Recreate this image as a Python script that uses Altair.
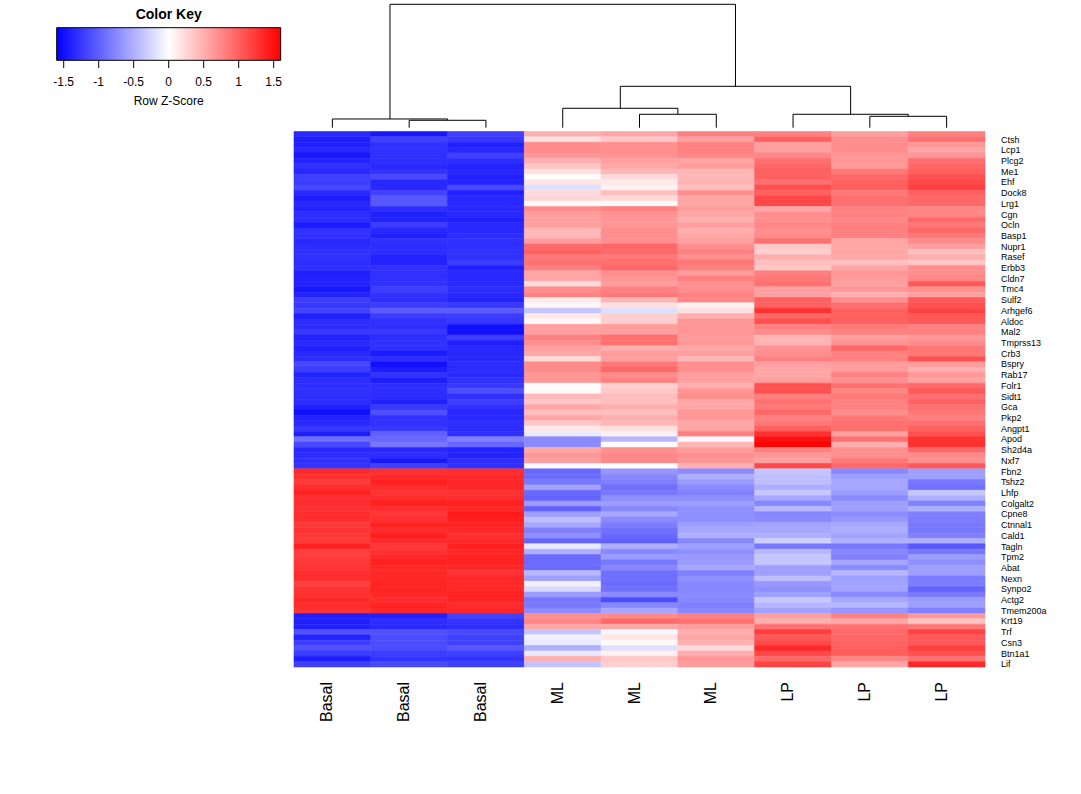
import altair as alt
import pandas as pd

FONT = "Liberation Sans"

# ---------------- data ----------------
sample_names = ["Basal", "Basal", "Basal", "ML", "ML", "ML", "LP", "LP", "LP"]
sample_ids = ["S1", "S2", "S3", "S4", "S5", "S6", "S7", "S8", "S9"]

# labels visible on the odd rows (1, 3, 5, ... 99)
shown_gene_labels = [
    "Ctsh", "Lcp1", "Plcg2", "Me1", "Ehf", "Dock8", "Lrg1", "Cgn", "Ocln", "Basp1",
    "Nupr1", "Rasef", "Erbb3", "Cldn7", "Tmc4", "Sulf2", "Arhgef6", "Aldoc", "Mal2", "Tmprss13",
    "Crb3", "Bspry", "Rab17", "Folr1", "Sidt1", "Gca", "Pkp2", "Angpt1", "Apod", "Sh2d4a",
    "Nxf7", "Fbn2", "Tshz2", "Lhfp", "Colgalt2", "Cpne8", "Ctnnal1", "Cald1", "Tagln", "Tpm2",
    "Abat", "Nexn", "Synpo2", "Actg2", "Tmem200a", "Krt19", "Trf", "Csn3", "Btn1a1", "Lif",
]

# row z-scores, one list per sample column (100 genes, top to bottom)
z_basal_1 = [
    -1.35, -1.4, -1.4, -1.35, -1.45, -1.38, -1.3, -1.35, -1.22, -1.22,
    -1.15, -1.35, -1.42, -1.35, -1.38, -1.32, -1.32, -1.43, -1.3, -1.3,
    -1.35, -1.32, -1.3, -1.3, -1.32, -1.3, -1.4, -1.38, -1.38, -1.45,
    -1.38, -1.22, -1.25, -1.18, -1.4, -1.32, -1.32, -1.25, -1.38, -1.35,
    -1.38, -1.35, -1.32, -1.15, -1.22, -1.38, -1.32, -1.32, -1.3, -1.32,
    -1.32, -1.4, -1.5, -1.38, -1.35, -1.25, -1.4, -0.9, -1.15, -1.35,
    -1.32, -1.3, -1.28, 1.35, 1.3, 1.22, 1.32, 1.4, 1.3, 1.32,
    1.3, 1.32, 1.32, 1.25, 1.28, 1.25, 1.25, 1.4, 1.22, 1.22,
    1.25, 1.28, 1.32, 1.32, 1.2, 1.28, 1.28, 1.35, 1.32, 1.28,
    -1.4, -1.4, -1.4, -1.1, -1.38, -1.22, -1.1, -1.22, -1.42, -1.2,
]
z_basal_2 = [
    -1.45, -1.2, -1.3, -1.3, -1.3, -1.32, -1.35, -1.28, -1.15, -1.35,
    -1.35, -1.2, -1.05, -1.05, -1.32, -1.4, -1.38, -1.22, -1.35, -1.4,
    -1.3, -1.32, -1.32, -1.38, -1.38, -1.3, -1.3, -1.3, -1.3, -1.22,
    -1.3, -1.32, -1.22, -1.03, -1.22, -1.3, -1.32, -1.25, -1.32, -1.3,
    -1.3, -1.43, -1.32, -1.5, -1.42, -1.28, -1.42, -1.32, -1.32, -1.32,
    -1.4, -1.25, -1.1, -1.3, -1.3, -1.25, -1.0, -0.95, -0.85, -1.35,
    -1.32, -1.45, -1.2, 1.3, 1.35, 1.4, 1.32, 1.28, 1.32, 1.4,
    1.32, 1.25, 1.3, 1.4, 1.32, 1.42, 1.35, 1.25, 1.3, 1.35,
    1.4, 1.35, 1.35, 1.35, 1.38, 1.38, 1.35, 1.32, 1.38, 1.35,
    -1.4, -1.32, -1.35, -1.1, -1.12, -1.12, -1.12, -1.22, -1.28, -1.15,
]
z_basal_3 = [
    -1.2, -1.25, -1.4, -1.35, -1.2, -1.32, -1.38, -1.35, -1.4, -1.38,
    -1.15, -1.4, -1.35, -1.35, -1.35, -1.35, -1.4, -1.35, -1.35, -1.32,
    -1.3, -1.3, -1.3, -1.3, -1.22, -1.4, -1.35, -1.35, -1.35, -1.32,
    -1.35, -1.38, -1.25, -1.03, -1.22, -1.25, -1.5, -1.5, -1.22, -1.4,
    -1.35, -1.35, -1.35, -1.32, -1.32, -1.35, -1.28, -1.25, -1.1, -1.3,
    -1.22, -1.3, -1.35, -1.35, -1.32, -1.32, -1.3, -0.8, -0.95, -1.38,
    -1.38, -1.32, -1.3, 1.32, 1.35, 1.35, 1.35, 1.28, 1.32, 1.4,
    1.35, 1.43, 1.4, 1.38, 1.35, 1.3, 1.35, 1.4, 1.35, 1.38,
    1.38, 1.35, 1.28, 1.35, 1.35, 1.35, 1.38, 1.38, 1.32, 1.35,
    -1.2, -1.28, -1.32, -1.15, -1.2, -1.2, -1.05, -1.2, -1.28, -1.2,
]
z_ml_1 = [
    0.5, 0.2, 0.73, 0.73, 0.65, 0.5, 0.37, 0.2, 0.02, 0.15,
    -0.2, 0.23, 0.25, 0.04, 0.73, 0.62, 0.6, 0.6, 0.45, 0.45,
    0.6, 0.93, 1.0, 0.85, 0.9, 0.8, 0.55, 0.55, 0.23, 0.7,
    0.8, 0.14, 0.06, -0.37, 0.14, 0.04, 0.6, 0.6, 0.8, 0.7,
    0.6, 0.55, 0.23, 0.73, 0.73, 0.65, 0.65, -0.02, 0.04, 0.45,
    0.35, 0.55, 0.4, 0.55, 0.35, 0.14, -0.14, -0.73, -0.73, 0.55,
    0.65, 0.6, -0.03, -0.95, -0.93, -0.85, -0.58, -0.95, -0.97, -0.62,
    -1.0, -0.6, -0.4, -0.55, -0.8, -0.7, -0.97, -0.14, -0.5, -0.93,
    -0.93, -0.93, -0.45, -0.6, -0.09, -0.23, -0.62, -0.85, -0.85, -0.73,
    0.7, 0.75, 0.55, -0.37, -0.09, -0.14, -0.5, -0.14, 0.5, -0.37,
]
z_ml_2 = [
    0.55, 0.35, 0.7, 0.7, 0.68, 0.6, 0.55, 0.45, 0.23, 0.14,
    0.09, 0.4, 0.23, 0.03, 0.8, 0.68, 0.65, 0.65, 0.7, 0.7,
    0.7, 0.95, 0.95, 0.85, 0.9, 0.95, 0.7, 0.65, 0.62, 0.8,
    0.85, 0.47, 0.2, -0.2, 0.3, 0.3, 0.62, 0.6, 0.9, 0.9,
    0.5, 0.62, 0.6, 0.85, 0.95, 0.73, 0.8, 0.3, 0.35, 0.4,
    0.4, 0.5, 0.4, 0.5, 0.45, 0.2, 0.09, -0.45, 0.0, 0.7,
    0.75, 0.75, 0.0, -0.65, -0.75, -0.8, -0.9, -0.85, -0.7, -0.62,
    -0.75, -0.55, -0.73, -0.82, -0.9, -0.95, -1.0, -0.5, -0.75, -0.62,
    -0.85, -0.75, -0.9, -0.9, -0.93, -0.9, -0.73, -1.12, -0.75, -0.55,
    0.73, 0.95, 0.55, -0.05, 0.15, 0.04, -0.2, 0.09, 0.35, 0.3,
]
z_ml_3 = [
    0.8, 0.6, 0.8, 0.8, 0.75, 0.58, 0.62, 0.45, 0.45, 0.47,
    0.4, 0.7, 0.55, 0.55, 0.62, 0.55, 0.5, 0.6, 0.5, 0.55,
    0.6, 0.7, 0.8, 0.7, 0.85, 0.8, 0.62, 0.8, 0.7, 0.7,
    0.8, 0.75, 0.09, 0.2, 0.5, 0.65, 0.65, 0.65, 0.62, 0.65,
    0.55, 0.6, 0.45, 0.7, 0.7, 0.62, 0.6, 0.5, 0.65, 0.7,
    0.55, 0.55, 0.65, 0.65, 0.55, 0.55, 0.8, -0.04, 0.45, 0.62,
    0.7, 0.65, 0.5, -0.73, -0.5, -0.62, -0.73, -0.8, -0.7, -0.6,
    -0.7, -0.7, -0.7, -0.6, -0.55, -0.5, -0.75, -0.6, -0.7, -0.65,
    -0.62, -0.55, -0.8, -0.7, -0.75, -0.75, -0.73, -0.75, -0.8, -0.75,
    0.8, 0.9, 0.62, 0.5, 0.55, 0.5, 0.23, 0.5, 0.65, 0.62,
]
z_lp_1 = [
    0.8, 1.0, 0.6, 0.6, 0.75, 0.9, 0.95, 1.0, 1.0, 0.9,
    1.1, 1.0, 1.15, 1.15, 0.55, 0.7, 0.7, 0.75, 0.7, 0.73,
    0.9, 0.35, 0.3, 0.5, 0.4, 0.35, 0.8, 0.85, 0.9, 0.6,
    0.6, 1.0, 1.0, 1.3, 0.95, 1.1, 0.8, 0.73, 0.47, 0.47,
    0.68, 0.7, 0.8, 0.6, 0.55, 0.55, 0.6, 1.1, 1.1, 0.8,
    0.9, 0.85, 0.95, 0.8, 0.85, 1.0, 1.3, 1.5, 1.59, 0.8,
    0.65, 0.6, 1.15, -0.37, -0.4, -0.4, -0.5, -0.35, -0.55, -0.75,
    -0.45, -0.75, -0.73, -0.58, -0.55, -0.5, -0.3, -0.85, -0.45, -0.35,
    -0.35, -0.6, -0.6, -0.4, -0.65, -0.7, -0.6, -0.35, -0.45, -0.58,
    0.6, 0.5, 0.9, 1.22, 1.05, 1.15, 1.35, 1.15, 0.95, 1.18,
]
z_lp_2 = [
    0.6, 0.7, 0.73, 0.7, 0.65, 0.65, 0.62, 0.85, 0.95, 1.0,
    1.0, 0.85, 0.9, 0.9, 0.8, 0.8, 0.75, 0.8, 0.8, 0.8,
    0.55, 0.55, 0.55, 0.55, 0.4, 0.55, 0.65, 0.62, 0.6, 0.65,
    0.5, 0.7, 0.9, 1.0, 1.0, 1.0, 0.85, 0.8, 0.6, 0.68,
    0.95, 0.8, 0.8, 0.62, 0.62, 0.8, 0.68, 0.9, 0.75, 0.85,
    0.8, 0.8, 0.7, 0.85, 0.9, 0.9, 0.6, 0.9, 0.5, 0.7,
    0.7, 0.85, 0.95, -0.75, -0.62, -0.55, -0.55, -0.62, -0.73, -0.6,
    -0.6, -0.73, -0.65, -0.55, -0.5, -0.58, -0.5, -0.85, -0.75, -0.8,
    -0.55, -0.73, -0.45, -0.6, -0.58, -0.58, -0.73, -0.55, -0.45, -0.65,
    0.8, 0.55, 0.9, 0.95, 0.95, 1.0, 1.0, 1.02, 0.75, 0.55,
]
z_lp_3 = [
    0.8, 0.9, 0.65, 0.55, 0.65, 0.9, 0.95, 1.0, 1.1, 1.15,
    1.2, 1.0, 0.95, 0.95, 0.75, 0.75, 0.95, 0.85, 0.95, 0.85,
    0.73, 0.6, 0.4, 0.5, 0.35, 0.7, 0.7, 0.75, 1.05, 0.7,
    0.6, 1.05, 1.1, 1.2, 1.05, 1.05, 0.8, 0.8, 0.65, 0.73,
    0.85, 0.85, 1.1, 0.62, 0.5, 0.65, 0.58, 0.95, 1.05, 0.9,
    1.0, 0.9, 0.85, 0.8, 0.9, 1.0, 1.1, 1.3, 1.3, 0.95,
    0.73, 0.7, 1.05, -0.6, -0.6, -0.85, -0.9, -0.35, -0.5, -0.8,
    -0.5, -0.8, -0.82, -0.85, -0.85, -0.8, -0.5, -1.05, -0.85, -0.62,
    -0.7, -0.6, -0.6, -0.82, -0.82, -0.97, -0.85, -0.62, -0.6, -0.8,
    0.65, 0.37, 0.85, 1.18, 1.05, 1.05, 1.2, 1.1, 0.9, 1.35,
]

# column dendrogram (hclust-style merges: negative = leaf index, positive = merge index)
merge_left = [-2, -1, -5, -4, -8, -7, 4, 2]
merge_right = [-3, 1, -6, 3, -9, 5, 6, 7]
merge_height = [1.80, 2.12, 3.26, 4.72, 2.77, 3.26, 10.06, 30.0]

# colour key
key_limits = [-1.6, 1.6]
key_tick_values = [-1.5, -1.0, -0.5, 0.0, 0.5, 1.0, 1.5]
key_tick_labels = ["-1.5", "-1", "-0.5", "0", "0.5", "1", "1.5"]

# ---------------- tables ----------------
columns = [z_basal_1, z_basal_2, z_basal_3, z_ml_1, z_ml_2, z_ml_3, z_lp_1, z_lp_2, z_lp_3]
n_rows = len(z_basal_1)
rows = list(range(n_rows))

heat_df = pd.DataFrame(
    [{"row": r, "sample": sample_ids[j], "z": columns[j][r]} for j in range(9) for r in rows]
)
rowlab_df = pd.DataFrame(
    [{"row": 2 * i + 1, "label": lab} for i, lab in enumerate(shown_gene_labels)]
)
collab_df = pd.DataFrame({"sample": sample_ids, "name": sample_names})

# dendrogram segments
def node_pos(k, pos):
    if k < 0:
        return (-k - 1) + 0.5, 0.0
    return pos[k - 1]

pos = []
segs = []
for l, r, h in zip(merge_left, merge_right, merge_height):
    xl, hl = node_pos(l, pos)
    xr, hr = node_pos(r, pos)
    segs.append({"x0": xl, "x1": xl, "h0": hl, "h1": h})
    segs.append({"x0": xr, "x1": xr, "h0": hr, "h1": h})
    segs.append({"x0": xl, "x1": xr, "h0": h, "h1": h})
    pos.append(((xl + xr) / 2, h))
dendro_df = pd.DataFrame(segs)

key_df = pd.DataFrame({"lo": [key_limits[0]], "hi": [key_limits[1]]})
keytick_df = pd.DataFrame({"v": key_tick_values, "lab": key_tick_labels})
keytitle_df = pd.DataFrame({"v": [0.0], "t": ["Color Key"]})
keyxlab_df = pd.DataFrame({"v": [0.0], "t": ["Row Z-Score"]})

# ---------------- scales ----------------
HX = [294, 985]
HY = [131.5, 667]
x_band = alt.Scale(domain=sample_ids, range=HX, paddingInner=0, paddingOuter=0)
y_band = alt.Scale(domain=rows, range=HY, paddingInner=0, paddingOuter=0)
col_scale = alt.Scale(domain=[key_limits[0], 0, key_limits[1]],
                      range=["#0000FF", "#FFFFFF", "#FF0000"], interpolate="rgb")
dx_scale = alt.Scale(domain=[0, 9], range=HX, nice=False, zero=False)
dy_scale = alt.Scale(domain=[0, 30], range=[127.7, 4.3], nice=False, zero=False)
key_scale = alt.Scale(domain=key_limits, range=[56.7, 280.7], nice=False, zero=False)

# ---------------- layers ----------------
heat = alt.Chart(heat_df).mark_rect(strokeWidth=0.6).encode(
    x=alt.X("sample:N", scale=x_band, axis=None),
    y=alt.Y("row:O", scale=y_band, axis=None),
    color=alt.Color("z:Q", scale=col_scale, legend=None),
    stroke=alt.Stroke("z:Q", scale=col_scale, legend=None),
)

rowlab = alt.Chart(rowlab_df).mark_text(
    align="left", baseline="middle", fontSize=9, font=FONT, color="black"
).encode(
    y=alt.Y("row:O", scale=y_band, axis=None),
    x=alt.value(1001),
    text="label:N",
)

collab = alt.Chart(collab_df).mark_text(
    angle=270, align="right", baseline="alphabetic", fontSize=16, font=FONT, color="black"
).encode(
    x=alt.X("sample:N", scale=x_band, axis=None),
    y=alt.value(682),
    text="name:N",
)

heat_layer = alt.layer(heat, rowlab, collab)

dendro = alt.Chart(dendro_df).mark_rule(color="black", strokeWidth=1).encode(
    x=alt.X("x0:Q", scale=dx_scale, axis=None),
    x2="x1:Q",
    y=alt.Y("h0:Q", scale=dy_scale, axis=None),
    y2="h1:Q",
)

grad = alt.LinearGradient(
    gradient="linear",
    stops=[
        alt.GradientStop(color="#0000FF", offset=0),
        alt.GradientStop(color="#FFFFFF", offset=0.5),
        alt.GradientStop(color="#FF0000", offset=1),
    ],
    x1=0, x2=1, y1=0, y2=0,
)
key_rect = alt.Chart(key_df).mark_rect(fill=grad, stroke="black", strokeWidth=1).encode(
    x=alt.X("lo:Q", scale=key_scale, axis=None),
    x2="hi:Q",
    y=alt.value(27.7),
    y2=alt.value(60.3),
)
key_ticks = alt.Chart(keytick_df).mark_rule(color="black", strokeWidth=1).encode(
    x=alt.X("v:Q", scale=key_scale, axis=None),
    y=alt.value(60.3),
    y2=alt.value(68),
)
key_labels = alt.Chart(keytick_df).mark_text(
    baseline="middle", align="center", fontSize=12, font=FONT, color="black"
).encode(
    x=alt.X("v:Q", scale=key_scale, axis=None),
    y=alt.value(82),
    text="lab:N",
)
key_title = alt.Chart(keytitle_df).mark_text(
    baseline="middle", align="center", fontSize=14, fontWeight="bold", font=FONT, color="black"
).encode(
    x=alt.X("v:Q", scale=key_scale, axis=None),
    y=alt.value(15),
    text="t:N",
)
key_xlab = alt.Chart(keyxlab_df).mark_text(
    baseline="middle", align="center", fontSize=12, font=FONT, color="black"
).encode(
    x=alt.X("v:Q", scale=key_scale, axis=None),
    y=alt.value(101),
    text="t:N",
)
key_layer = alt.layer(key_rect, key_ticks, key_labels, key_title, key_xlab)

chart = alt.layer(heat_layer, dendro, key_layer).resolve_scale(
    x="independent", y="independent", color="independent", stroke="independent"
).properties(
    width=1081, height=794, padding=0, autosize="none", background="white"
).configure_view(strokeWidth=0)

chart.save("out.html", embed_options={"renderer": "svg", "actions": False})
